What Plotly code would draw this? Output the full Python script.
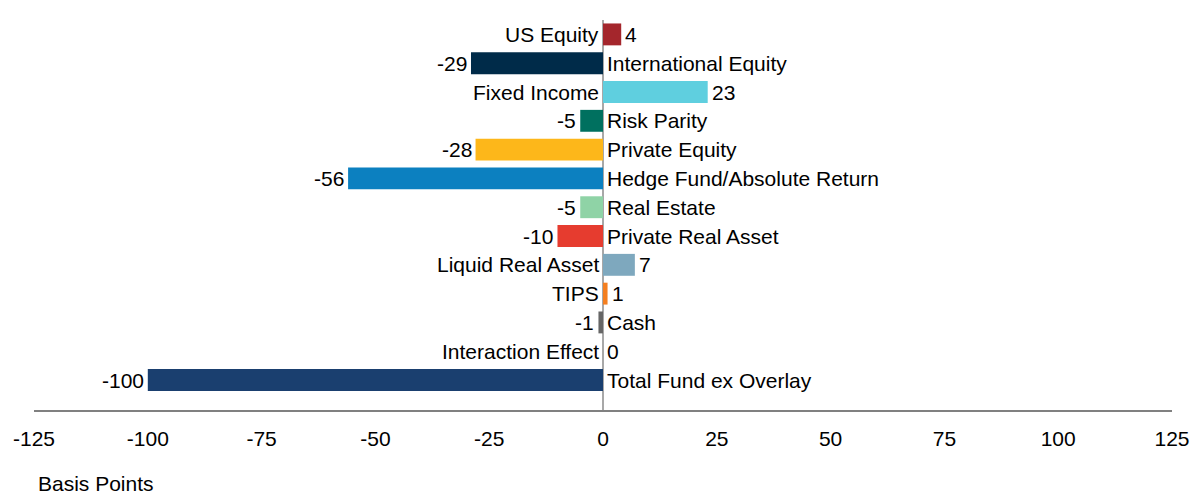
import plotly.graph_objects as go

categories = ["US Equity", "International Equity", "Fixed Income", "Risk Parity",
              "Private Equity", "Hedge Fund/Absolute Return", "Real Estate",
              "Private Real Asset", "Liquid Real Asset", "TIPS", "Cash",
              "Interaction Effect", "Total Fund ex Overlay"]
values = [4, -29, 23, -5, -28, -56, -5, -10, 7, 1, -1, 0, -100]
colors = ["#A4262C", "#002B49", "#5FCFDF", "#00705F", "#FDB71A", "#0C80C0",
          "#8FD3A6", "#E63C2F", "#7EA8BE", "#F47F20", "#666666", "#FFFFFF", "#1A3F6F"]
tick_vals = [-125, -100, -75, -50, -25, 0, 25, 50, 75, 100, 125]

FONT = "Liberation Sans, Arial, sans-serif"
FS = 21

fig = go.Figure()
fig.add_trace(go.Bar(
    x=values, y=list(range(len(categories))), orientation="h",
    marker=dict(color=colors, line=dict(width=0)),
    width=0.76, hoverinfo="skip", showlegend=False,
))

annotations = []
for i, (cat, v) in enumerate(zip(categories, values)):
    if v >= 0:
        annotations.append(dict(x=0, y=i, xref="x", yref="y", text=cat, showarrow=False,
                                xanchor="right", xshift=-2, font=dict(size=FS, family=FONT, color="#000")))
        annotations.append(dict(x=v, y=i, xref="x", yref="y", text=str(v), showarrow=False,
                                xanchor="left", xshift=2, font=dict(size=FS, family=FONT, color="#000")))
    else:
        annotations.append(dict(x=0, y=i, xref="x", yref="y", text=cat, showarrow=False,
                                xanchor="left", xshift=2, font=dict(size=FS, family=FONT, color="#000")))
        annotations.append(dict(x=v, y=i, xref="x", yref="y", text=str(v), showarrow=False,
                                xanchor="right", xshift=-2, font=dict(size=FS, family=FONT, color="#000")))

annotations.append(dict(x=0, y=0, xref="paper", yref="paper", text="Basis Points",
                        showarrow=False, xanchor="left", yanchor="top", xshift=2, yshift=-60,
                        font=dict(size=FS, family=FONT, color="#000")))

fig.update_layout(
    width=1190, height=496,
    margin=dict(l=34, r=18, t=20, b=86, autoexpand=False),
    plot_bgcolor="white", paper_bgcolor="white",
    annotations=annotations,
    xaxis=dict(range=[-125, 125], tickvals=tick_vals, ticktext=[str(t) for t in tick_vals],
               showgrid=False, zeroline=True, zerolinecolor="#A8A8A8", zerolinewidth=2,
               showline=True, linecolor="#808080", linewidth=1.5, ticks="", automargin=False,
               ticklabelstandoff=9,
               tickfont=dict(size=FS, family=FONT, color="#000")),
    yaxis=dict(range=[13.04, -0.5], showticklabels=False, showgrid=False, zeroline=False,
               showline=False, ticks="", automargin=False),
)

fig.write_html("out.html",
               config={"displayModeBar": False, "staticPlot": True},
               post_script="document.body.style.margin='0';document.body.style.overflow='hidden';")
